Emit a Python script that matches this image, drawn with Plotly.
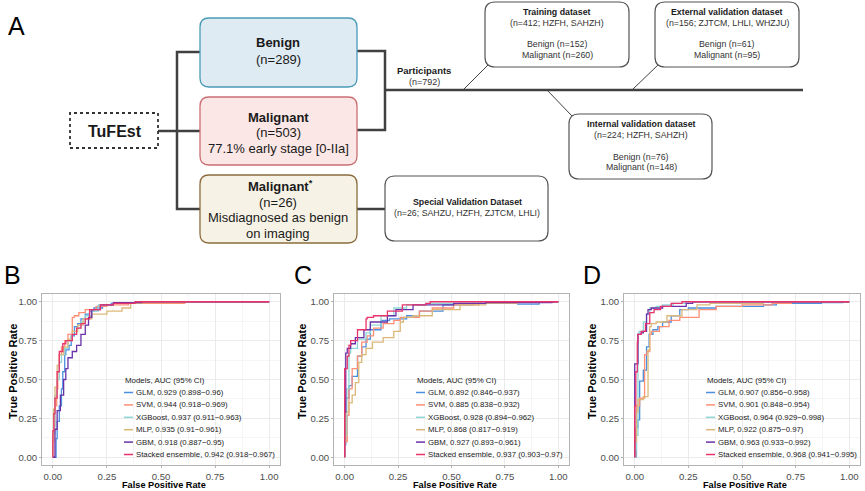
import plotly.graph_objects as go

W, H = 865, 491

# ---------------- data ----------------
MODELS = ["GLM", "SVM", "XGBoost", "MLP", "GBM", "Stacked ensemble"]
COLORS = ["#4a8fe0", "#ff8f75", "#8fd6d6", "#dcb878", "#6a32a8", "#e8336b"]

# Panel B (training)
B_GLM_FPR = [0, 0.015, 0.02, 0.03, 0.04, 0.046, 0.055, 0.06, 0.075, 0.085, 0.1, 0.115, 0.13, 0.15, 0.17, 0.19, 0.23, 0.27, 0.4, 0.55, 1]
B_GLM_TPR = [0, 0, 0.12, 0.23, 0.33, 0.44, 0.55, 0.66, 0.69, 0.72, 0.78, 0.84, 0.86, 0.89, 0.92, 0.94, 0.96, 0.98, 0.99, 0.995, 1]
B_SVM_FPR = [0, 0.005, 0.01, 0.018, 0.023, 0.03, 0.04, 0.055, 0.07, 0.09, 0.1, 0.12, 0.15, 0.2, 0.25, 0.35, 0.61, 1]
B_SVM_TPR = [0, 0.1, 0.2, 0.33, 0.44, 0.55, 0.66, 0.71, 0.75, 0.79, 0.9, 0.91, 0.93, 0.95, 0.97, 0.98, 0.99, 1]
B_XGB_FPR = [0, 0.01, 0.02, 0.03, 0.04, 0.055, 0.07, 0.09, 0.11, 0.13, 0.15, 0.18, 0.21, 0.28, 0.4, 1]
B_XGB_TPR = [0, 0.15, 0.4, 0.5, 0.61, 0.66, 0.7, 0.75, 0.79, 0.83, 0.87, 0.91, 0.94, 0.98, 0.99, 1]
B_MLP_FPR = [0, 0.003, 0.01, 0.02, 0.03, 0.05, 0.07, 0.09, 0.115, 0.14, 0.18, 0.25, 0.32, 0.36, 0.41, 0.6, 1]
B_MLP_TPR = [0, 0.1, 0.31, 0.45, 0.59, 0.66, 0.71, 0.76, 0.81, 0.85, 0.89, 0.92, 0.94, 0.96, 0.99, 0.995, 1]
B_GBM_FPR = [0, 0.01, 0.02, 0.035, 0.05, 0.06, 0.07, 0.09, 0.11, 0.13, 0.15, 0.165, 0.18, 0.22, 0.28, 0.41, 1]
B_GBM_TPR = [0, 0, 0.18, 0.3, 0.4, 0.5, 0.57, 0.64, 0.68, 0.72, 0.79, 0.85, 0.9, 0.95, 0.98, 0.995, 1]
B_STK_FPR = [0, 0.005, 0.01, 0.02, 0.03, 0.046, 0.06, 0.09, 0.11, 0.13, 0.15, 0.17, 0.22, 0.28, 0.38, 0.68, 1]
B_STK_TPR = [0, 0.17, 0.28, 0.38, 0.55, 0.68, 0.73, 0.75, 0.79, 0.83, 0.86, 0.89, 0.95, 0.98, 0.99, 1, 1]

# Panel C (internal validation)
C_GLM_FPR = [0, 0.005, 0.02, 0.035, 0.06, 0.08, 0.1, 0.12, 0.17, 0.21, 0.29, 0.35, 0.46, 0.6, 0.81, 0.91, 1]
C_GLM_TPR = [0, 0.08, 0.38, 0.46, 0.52, 0.65, 0.71, 0.76, 0.82, 0.88, 0.89, 0.91, 0.94, 0.98, 0.99, 0.985, 1]
C_SVM_FPR = [0, 0.012, 0.02, 0.035, 0.06, 0.08, 0.105, 0.135, 0.18, 0.23, 0.26, 0.35, 0.41, 0.51, 0.63, 0.74, 1]
C_SVM_TPR = [0, 0.1, 0.27, 0.44, 0.57, 0.65, 0.74, 0.78, 0.83, 0.86, 0.88, 0.9, 0.94, 0.96, 0.98, 0.99, 1]
C_XGB_FPR = [0, 0.01, 0.02, 0.028, 0.06, 0.1, 0.12, 0.17, 0.23, 0.29, 0.38, 0.54, 1]
C_XGB_TPR = [0, 0.14, 0.44, 0.67, 0.7, 0.76, 0.8, 0.85, 0.91, 0.96, 0.98, 0.99, 1]
C_MLP_FPR = [0, 0.005, 0.02, 0.035, 0.05, 0.066, 0.08, 0.1, 0.13, 0.18, 0.23, 0.26, 0.275, 0.32, 0.41, 0.54, 0.66, 0.81, 1]
C_MLP_TPR = [0, 0.1, 0.29, 0.35, 0.4, 0.48, 0.61, 0.66, 0.7, 0.74, 0.77, 0.81, 0.87, 0.9, 0.91, 0.95, 0.98, 0.99, 1]
C_GBM_FPR = [0, 0.005, 0.012, 0.028, 0.05, 0.09, 0.12, 0.2, 0.24, 0.32, 0.51, 0.66, 0.97, 1]
C_GBM_TPR = [0, 0.29, 0.67, 0.7, 0.73, 0.77, 0.82, 0.87, 0.91, 0.95, 0.98, 0.99, 0.995, 1]
C_STK_FPR = [0, 0.0, 0.012, 0.02, 0.028, 0.06, 0.1, 0.105, 0.135, 0.2, 0.27, 0.38, 0.4, 1]
C_STK_TPR = [0, 0.3, 0.57, 0.65, 0.72, 0.75, 0.82, 0.89, 0.9, 0.91, 0.94, 0.98, 0.99, 1]

# Panel D (external validation)
D_GLM_FPR = [0, 0.008, 0.015, 0.023, 0.04, 0.055, 0.067, 0.085, 0.108, 0.13, 0.17, 0.21, 0.25, 0.38, 0.6, 0.66, 0.87, 0.97, 1]
D_GLM_TPR = [0, 0, 0.19, 0.24, 0.49, 0.56, 0.71, 0.79, 0.82, 0.84, 0.87, 0.91, 0.95, 0.96, 0.97, 0.98, 0.99, 0.995, 1]
D_SVM_FPR = [0, 0.005, 0.008, 0.023, 0.046, 0.057, 0.07, 0.077, 0.115, 0.16, 0.21, 0.3, 0.38, 0.5, 0.64, 0.73, 1]
D_SVM_TPR = [0, 0, 0.18, 0.33, 0.38, 0.66, 0.68, 0.79, 0.81, 0.84, 0.88, 0.9, 0.95, 0.97, 0.98, 0.99, 1]
D_XGB_FPR = [0, 0.005, 0.008, 0.015, 0.02, 0.04, 0.055, 0.07, 0.1, 0.13, 0.18, 0.24, 0.35, 1]
D_XGB_TPR = [0, 0, 0.05, 0.14, 0.79, 0.81, 0.87, 0.92, 0.96, 0.97, 0.98, 0.99, 1, 1]
D_MLP_FPR = [0, 0.0, 0.008, 0.015, 0.04, 0.062, 0.07, 0.077, 0.1, 0.15, 0.22, 0.29, 0.35, 0.6, 1]
D_MLP_TPR = [0, 0.01, 0.1, 0.29, 0.37, 0.39, 0.69, 0.84, 0.86, 0.87, 0.91, 0.95, 0.98, 0.99, 1]
D_GBM_FPR = [0, 0.0, 0.015, 0.03, 0.04, 0.055, 0.062, 0.077, 0.13, 0.24, 0.27, 0.46, 1]
D_GBM_TPR = [0, 0.46, 0.6, 0.79, 0.8, 0.81, 0.92, 0.95, 0.96, 0.97, 0.99, 1, 1]
D_STK_FPR = [0, 0.005, 0.012, 0.015, 0.03, 0.05, 0.07, 0.09, 0.12, 0.17, 0.22, 0.3, 1]
D_STK_TPR = [0, 0.33, 0.55, 0.74, 0.79, 0.81, 0.86, 0.93, 0.95, 0.97, 0.99, 1, 1]

B_LABELS = ["GLM, 0.929 (0.898\u22120.96)", "SVM, 0.944 (0.918\u22120.969)", "XGBoost, 0.937 (0.911\u22120.963)",
            "MLP, 0.935 (0.91\u22120.961)", "GBM, 0.918 (0.887\u22120.95)", "Stacked ensemble, 0.942 (0.918\u22120.967)"]
C_LABELS = ["GLM, 0.892 (0.846\u22120.937)", "SVM, 0.885 (0.838\u22120.932)", "XGBoost, 0.928 (0.894\u22120.962)",
            "MLP, 0.868 (0.817\u22120.919)", "GBM, 0.927 (0.893\u22120.961)", "Stacked ensemble, 0.937 (0.903\u22120.97)"]
D_LABELS = ["GLM, 0.907 (0.856\u22120.958)", "SVM, 0.901 (0.848\u22120.954)", "XGBoost, 0.964 (0.929\u22120.998)",
            "MLP, 0.922 (0.875\u22120.97)", "GBM, 0.963 (0.933\u22120.992)", "Stacked ensemble, 0.968 (0.941\u22120.995)"]

TICKS = [0, 0.25, 0.5, 0.75, 1.0]
TICK_TEXT = ["0.00", "0.25", "0.50", "0.75", "1.00"]

PANELS = [
    ("B", [(B_GLM_FPR, B_GLM_TPR), (B_SVM_FPR, B_SVM_TPR), (B_XGB_FPR, B_XGB_TPR),
           (B_MLP_FPR, B_MLP_TPR), (B_GBM_FPR, B_GBM_TPR), (B_STK_FPR, B_STK_TPR)], B_LABELS),
    ("C", [(C_GLM_FPR, C_GLM_TPR), (C_SVM_FPR, C_SVM_TPR), (C_XGB_FPR, C_XGB_TPR),
           (C_MLP_FPR, C_MLP_TPR), (C_GBM_FPR, C_GBM_TPR), (C_STK_FPR, C_STK_TPR)], C_LABELS),
    ("D", [(D_GLM_FPR, D_GLM_TPR), (D_SVM_FPR, D_SVM_TPR), (D_XGB_FPR, D_XGB_TPR),
           (D_MLP_FPR, D_MLP_TPR), (D_GBM_FPR, D_GBM_TPR), (D_STK_FPR, D_STK_TPR)], D_LABELS),
]

# ---------------- layout helpers ----------------
def px(x):
    return x / W

def py(y):
    return 1 - y / H

FONT = "Liberation Sans, Arial, sans-serif"

fig = go.Figure()
shapes = []
annotations = []

# panel geometry (pixels): plot box left/right, top/bottom
PANEL_X = [(42, 280), (334, 569), (624, 860)]
PANEL_Y = (294, 465)
LETTER_X = [2, 292, 581]
YTITLE_X = [13, 302, 592]

for i, (letter, curves, labels) in enumerate(PANELS):
    xa = "x" if i == 0 else f"x{i+1}"
    ya = "y" if i == 0 else f"y{i+1}"
    for (fpr, tpr), name, col in zip(curves, MODELS, COLORS):
        fig.add_trace(go.Scatter(x=fpr, y=tpr, mode="lines", name=name,
                                 line=dict(color=col, width=1.3, shape="vh"),
                                 xaxis=xa, yaxis=ya, showlegend=False, hoverinfo="skip"))
    x0, x1 = PANEL_X[i]
    axis_common = dict(range=[-0.05, 1.05], tickvals=TICKS, ticktext=TICK_TEXT,
                       showgrid=True, gridcolor="#ebebeb", gridwidth=0.7,
                       minor=dict(showgrid=True, gridcolor="#f5f5f5", gridwidth=0.5, dtick=0.125, tick0=0.125),
                       zeroline=False, showline=True, mirror=True, linecolor="#b3b3b3", linewidth=1,
                       ticks="outside", ticklen=2, tickcolor="#b3b3b3",
                       tickfont=dict(family=FONT, size=9.6, color="#4d4d4d"), fixedrange=True)
    fig.layout[("xaxis" if i == 0 else f"xaxis{i+1}")] = dict(
        axis_common, domain=[px(x0), px(x1)], anchor=ya)
    fig.layout[("yaxis" if i == 0 else f"yaxis{i+1}")] = dict(
        axis_common, domain=[py(PANEL_Y[1]), py(PANEL_Y[0])], anchor=xa)

    # axis titles
    annotations.append(dict(text="<b>False Positive Rate</b>", x=px((x0 + x1) / 2 + 3), y=py(485),
                            xref="paper", yref="paper", xanchor="center", yanchor="middle", showarrow=False,
                            font=dict(family=FONT, size=9.2, color="black")))
    annotations.append(dict(text="<b>True Positive Rate</b>", x=px(YTITLE_X[i]), y=py(372),
                            xref="paper", yref="paper", xanchor="center", yanchor="middle", showarrow=False,
                            textangle=-90, font=dict(family=FONT, size=11, color="black")))

    # panel letter
    annotations.append(dict(text=letter, x=px(LETTER_X[i]), y=py(259), xref="paper", yref="paper",
                            xanchor="left", yanchor="top", showarrow=False,
                            font=dict(family=FONT, size=25, color="black")))
    # legend (manual, ggplot-like)
    lx = x0 + 82
    annotations.append(dict(text="Models, AUC (95% CI)", x=px(lx - 1), y=py(380), xref="paper", yref="paper",
                            xanchor="left", yanchor="middle", showarrow=False,
                            font=dict(family=FONT, size=7.9, color="#1a1a1a")))
    for k, (lab, col) in enumerate(zip(labels, COLORS)):
        yy = 392.5 + k * 12.4
        shapes.append(dict(type="line", xref="paper", yref="paper", x0=px(lx), x1=px(lx + 9),
                           y0=py(yy), y1=py(yy), line=dict(color=col, width=1.5)))
        annotations.append(dict(text=lab, x=px(lx + 10), y=py(yy), xref="paper", yref="paper",
                                xanchor="left", yanchor="middle", showarrow=False,
                                font=dict(family=FONT, size=7.8, color="#1a1a1a")))

# ---------------- panel A flowchart ----------------
def rrect(x0, y0, x1, y1, r, fill, line, width=1.3, dash="solid"):
    def p(x, y):
        return f"{px(x):.5f},{py(y):.5f}"
    path = (f"M {p(x0+r, y0)} L {p(x1-r, y0)} Q {p(x1, y0)} {p(x1, y0+r)} "
            f"L {p(x1, y1-r)} Q {p(x1, y1)} {p(x1-r, y1)} L {p(x0+r, y1)} "
            f"Q {p(x0, y1)} {p(x0, y1-r)} L {p(x0, y0+r)} Q {p(x0, y0)} {p(x0+r, y0)} Z")
    shapes.append(dict(type="path", path=path, xref="paper", yref="paper",
                       fillcolor=fill, line=dict(color=line, width=width, dash=dash)))

def seg(pts, color="#404040", width=2.5):
    path = "M " + " L ".join(f"{px(x):.5f},{py(y):.5f}" for x, y in pts)
    shapes.append(dict(type="path", path=path, xref="paper", yref="paper",
                       line=dict(color=color, width=width)))

def txt(s, x, y, size, bold=False, color="#1a1a1a"):
    annotations.append(dict(text=f"<b>{s}</b>" if bold else s, x=px(x), y=py(y), xref="paper", yref="paper",
                            xanchor="center", yanchor="middle", showarrow=False,
                            font=dict(family=FONT, size=size, color=color)))

# connectors (drawn first)
seg([(158, 131), (200, 131)])
seg([(200, 52), (177, 52), (177, 209), (200, 209)])
seg([(357, 51), (385, 51), (385, 130), (357, 130)])
seg([(385, 90), (803, 90)])
seg([(357, 209), (385, 209)])
seg([(488, 65), (463, 90)], color="#404040", width=1)
seg([(658, 65), (632, 90)], color="#404040", width=1)
seg([(547, 90), (572, 116)], color="#404040", width=1)

# group boxes
rrect(200, 18, 357, 87, 9, "#deebf3", "#4b9bb7")
rrect(200, 97, 357, 165, 9, "#fbe7e6", "#c96f72")
rrect(200, 175, 357, 243, 9, "#f6f3e6", "#8b6d3d")
shapes.append(dict(type="rect", xref="paper", yref="paper", x0=px(70), x1=px(158), y0=py(148), y1=py(113),
                   fillcolor="white", line=dict(color="#333333", width=1.8, dash="dot")))

# dataset boxes
rrect(485, 2, 629, 67, 10, "white", "#555555", 1.2)
rrect(655, 2, 799, 67, 10, "white", "#555555", 1.2)
rrect(569, 114, 712, 179, 10, "white", "#555555", 1.2)
rrect(385, 176, 548, 241, 10, "white", "#555555", 1.2)

annotations.append(dict(text="A", x=px(6), y=py(10), xref="paper", yref="paper", xanchor="left", yanchor="top",
                        showarrow=False, font=dict(family=FONT, size=25, color="black")))
txt("TuFEst", 115, 131, 16, bold=True)
txt("Benign", 278, 43, 13, bold=True)
txt("(n=289)", 278, 60, 13)
txt("Malignant", 278, 117, 13, bold=True)
txt("(n=503)", 278, 132, 13)
txt("77.1% early stage [0-IIa]", 278, 148, 13)
txt("Malignant<sup>*</sup>", 280, 186, 13, bold=True)
txt("(n=26)", 278, 202, 13)
txt("Misdiagnosed as benign", 278, 217, 13)
txt("on imaging", 278, 233, 13)

txt("Participants", 424, 70, 9.5, bold=True)
txt("(n=792)", 424, 82, 9, color="#333333")

BOX_FS = 8.8
txt("Training dataset", 557, 12, BOX_FS, bold=True)
txt("(n=412; HZFH, SAHZH)", 557, 23, BOX_FS, color="#333333")
txt("Benign (n=152)", 557, 44, BOX_FS, color="#333333")
txt("Malignant (n=260)", 557, 55, BOX_FS, color="#333333")

txt("External validation dataset", 727, 12, BOX_FS, bold=True)
txt("(n=156; ZJTCM, LHLI, WHZJU)", 727, 23, BOX_FS, color="#333333")
txt("Benign (n=61)", 727, 44, BOX_FS, color="#333333")
txt("Malignant (n=95)", 727, 55, BOX_FS, color="#333333")

txt("Internal validation dataset", 641, 124, BOX_FS, bold=True)
txt("(n=224; HZFH, SAHZH)", 641, 135, BOX_FS, color="#333333")
txt("Benign (n=76)", 641, 157, BOX_FS, color="#333333")
txt("Malignant (n=148)", 641, 167, BOX_FS, color="#333333")

txt("Special Validation Dataset", 467, 202, BOX_FS, bold=True)
txt("(n=26; SAHZU, HZFH, ZJTCM, LHLI)", 467, 213, BOX_FS, color="#333333")

fig.update_layout(width=W, height=H, margin=dict(l=0, r=0, t=0, b=0),
                  paper_bgcolor="white", plot_bgcolor="white",
                  shapes=shapes, annotations=annotations, showlegend=False,
                  font=dict(family=FONT))

fig.write_html("out.html", config={"displayModeBar": False},
               post_script="document.body.style.margin='0';document.body.style.overflow='hidden';")
